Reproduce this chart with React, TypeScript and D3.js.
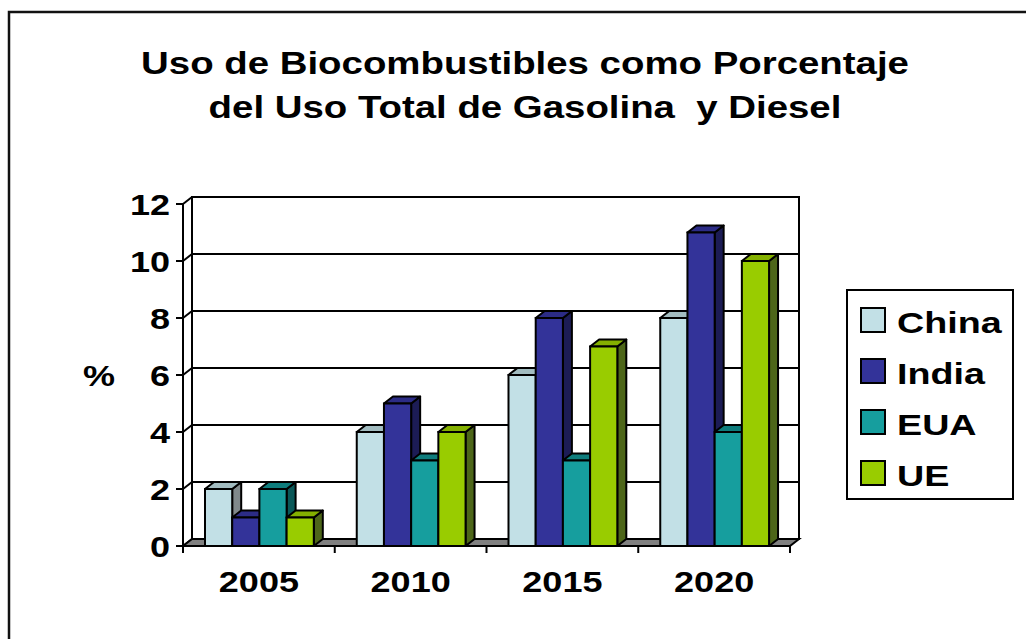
import React from "react";
import * as d3 from "d3";

const categories = ["2005", "2010", "2015", "2020"];
const seriesNames = ["China", "India", "EUA", "UE"];
const chinaValues = [2, 4, 6, 8];
const indiaValues = [1, 5, 8, 11];
const euaValues = [2, 3, 3, 4];
const ueValues = [1, 4, 7, 10];
const yTicks = [0, 2, 4, 6, 8, 10, 12];
const titleLines = ["Uso de Biocombustibles como Porcentaje", "del Uso Total de Gasolina  y Diesel"];

const seriesValues = [chinaValues, indiaValues, euaValues, ueValues];
const faceColors = [
  { front: "#c2e0e6", top: "#a2bcc0", side: "#80898b" },
  { front: "#333399", top: "#2c2c86", side: "#1c1c55" },
  { front: "#169e9e", top: "#0f7d7d", side: "#0a5858" },
  { front: "#99cc00", top: "#84b000", side: "#4d6619" },
];

const W = 1026;
const H = 639;
const X0 = 183;
const X1 = 790;
const DX = 9;
const DY = -7;
const FONT = "Arial, 'Liberation Sans', sans-serif";

export default function App() {
  const y = d3.scaleLinear().domain([0, 12]).range([546, 204]);
  const x0 = d3.scaleBand<string>().domain(categories).range([X0, X1]).padding(0);
  const bw = x0.bandwidth();
  const x1 = d3
    .scaleBand<string>()
    .domain(seriesNames)
    .range([bw * 0.145, bw * 0.862])
    .padding(0);
  const w = x1.bandwidth();
  const base = y(0);

  const floor = `M${X0},${base} L${X0 + DX},${base + DY} L${X1 + DX},${base + DY} L${X1},${base} Z`;

  const scaledText = (
    txt: string,
    x: number,
    yy: number,
    size: number,
    anchor: string,
    sx: number,
    key?: string
  ) => (
    <g key={key} transform={`translate(${x},${yy}) scale(${sx},1)`}>
      <text
        x={0}
        y={0}
        fontFamily={FONT}
        fontWeight="bold"
        fontSize={size}
        textAnchor={anchor}
        fill="#000"
        style={{ whiteSpace: "pre" }}
      >
        {txt}
      </text>
    </g>
  );

  return (
    <svg
      width={W}
      height={H}
      style={{ position: "absolute", left: 0, top: 0, background: "#fff" }}
    >
      <rect x={0} y={0} width={W} height={H} fill="#fff" />
      {/* outer border (only top/left visible) */}
      <rect x={9} y={12} width={1200} height={800} fill="none" stroke="#111" strokeWidth={2.5} />

      {/* title */}
      {titleLines.map((t, i) => scaledText(t, 525, 74 + i * 44, 32, "middle", 1.2, "t" + i))}

      {/* back wall */}
      <rect
        x={X0 + DX}
        y={y(12) + DY}
        width={X1 - X0}
        height={base - y(12)}
        fill="#fff"
        stroke="#000"
        strokeWidth={2}
      />
      {/* gridlines on back wall and side wall */}
      {yTicks.map((t) => (
        <g key={"g" + t}>
          <line x1={X0 + DX} x2={X1 + DX} y1={y(t) + DY} y2={y(t) + DY} stroke="#000" strokeWidth={2} />
          <line x1={X0} x2={X0 + DX} y1={y(t)} y2={y(t) + DY} stroke="#000" strokeWidth={2} />
          <line x1={X0 - 7} x2={X0} y1={y(t)} y2={y(t)} stroke="#000" strokeWidth={2} />
        </g>
      ))}
      {/* floor */}
      <path d={floor} fill="#808080" stroke="#000" strokeWidth={2} />
      {/* left wall edges */}
      <line x1={X0} x2={X0} y1={y(12)} y2={base} stroke="#000" strokeWidth={2} />

      {/* bars */}
      {categories.map((c, ci) => (
        <g key={c}>
          {seriesNames.map((s, si) => {
            const v = seriesValues[si][ci];
            const xl = (x0(c) as number) + (x1(s) as number);
            const xr = xl + w;
            const yt = y(v);
            const col = faceColors[si];
            const side = `M${xr},${yt} L${xr + DX},${yt + DY} L${xr + DX},${base + DY} L${xr},${base} Z`;
            const top = `M${xl},${yt} L${xl + DX},${yt + DY} L${xr + DX},${yt + DY} L${xr},${yt} Z`;
            return (
              <g key={s}>
                <path d={side} fill={col.side} stroke="#000" strokeWidth={2} strokeLinejoin="round" />
                <path d={top} fill={col.top} stroke="#000" strokeWidth={2} strokeLinejoin="round" />
                <rect x={xl} y={yt} width={w} height={base - yt} fill={col.front} stroke="#000" strokeWidth={2} />
              </g>
            );
          })}
        </g>
      ))}

      {/* x axis */}
      <line x1={X0} x2={X1} y1={base} y2={base} stroke="#000" strokeWidth={2} />
      {[...categories.map((c) => x0(c) as number), X1].map((xx, i) => (
        <line key={"xt" + i} x1={xx} x2={xx} y1={base} y2={base + 7} stroke="#000" strokeWidth={2} />
      ))}
      {categories.map((c) =>
        scaledText(c, (x0(c) as number) + bw / 2, 592, 30, "middle", 1.2, "xl" + c)
      )}

      {/* y tick labels */}
      {yTicks.map((t) => scaledText(String(t), 170, y(t) + 11, 30, "end", 1.2, "yl" + t))}
      {scaledText("%", 83, 386, 30, "start", 1.2, "pct")}

      {/* legend */}
      <rect x={847} y={290} width={166} height={209} fill="#fff" stroke="#000" strokeWidth={2} />
      {seriesNames.map((s, i) => {
        const by = 333 + i * 51;
        return (
          <g key={"lg" + s}>
            <rect x={861} y={by - 25} width={24} height={24} fill={faceColors[i].front} stroke="#000" strokeWidth={2} />
            {scaledText(s, 897, by, 29, "start", 1.3)}
          </g>
        );
      })}
    </svg>
  );
}
